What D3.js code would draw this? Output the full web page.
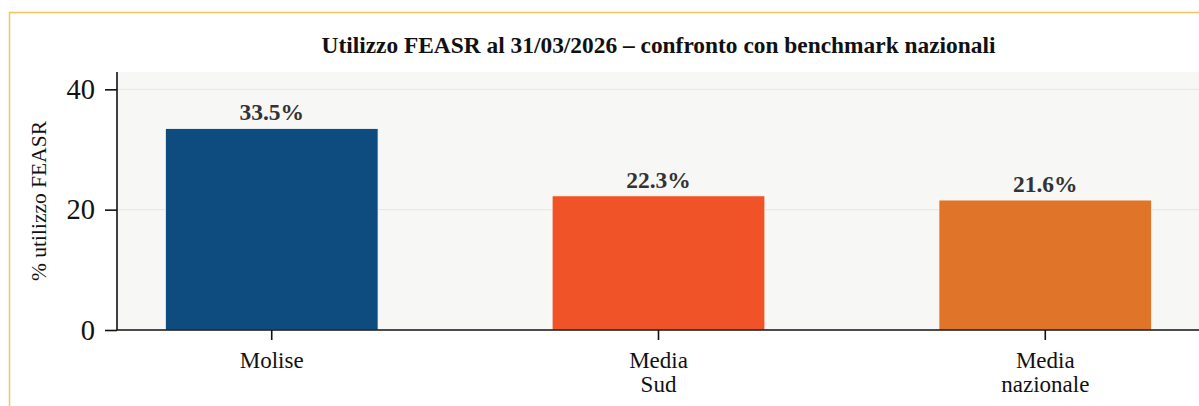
<!DOCTYPE html>
<html><head><meta charset="utf-8">
<script src="https://cdn.jsdelivr.net/npm/d3@7"></script>
<style>
html,body{margin:0;padding:0;background:#fff;overflow:hidden}
text{font-family:"Liberation Serif","Times New Roman",serif}
</style></head>
<body><svg id="c" width="1199" height="406"></svg>
<script>
const categories = [["Molise"], ["Media", "Sud"], ["Media", "nazionale"]];
const values = [33.5, 22.3, 21.6];
const barColors = ["#0e4b7f", "#f05327", "#e07428"];
const yTicks = [0, 20, 40];
const title = "Utilizzo FEASR al 31/03/2026 – confronto con benchmark nazionali";
const yLabel = "% utilizzo FEASR";

const svg = d3.select("#c");
const mLeft = 117, mRight = 1200, mTop = 72, mBottom = 330;

// frame border
svg.append("rect").attr("x", 9.5).attr("y", 12.5).attr("width", 1300).attr("height", 500)
  .attr("fill", "none").attr("stroke", "#fbc360").attr("stroke-width", 1.5);

const x = d3.scaleBand().domain(d3.range(values.length)).range([mLeft, mRight])
  .paddingInner(0.45).paddingOuter(0.125);
const y = d3.scaleLinear().domain([0, d3.max(values) * 1.28]).range([mBottom, mTop]);

// plot background
svg.append("rect").attr("x", mLeft).attr("y", mTop).attr("width", mRight - mLeft).attr("height", mBottom - mTop)
  .attr("fill", "#f7f7f5");

// grid
svg.append("g").selectAll("line").data(yTicks.filter(d => d > 0)).join("line")
  .attr("x1", mLeft).attr("x2", mRight).attr("y1", d => y(d)).attr("y2", d => y(d))
  .attr("stroke", "#e6e6e4").attr("stroke-width", 1);

// bars
svg.append("g").selectAll("rect").data(values).join("rect")
  .attr("x", (d, i) => x(i)).attr("width", x.bandwidth())
  .attr("y", d => y(d)).attr("height", d => y(0) - y(d))
  .attr("fill", (d, i) => barColors[i]).attr("stroke", "#ffffff").attr("stroke-width", 0.8);

// value labels
svg.append("g").selectAll("text").data(values).join("text")
  .attr("x", (d, i) => x(i) + x.bandwidth() / 2).attr("y", d => y(d) - 8)
  .attr("text-anchor", "middle").attr("font-weight", "bold").attr("font-size", 23.5)
  .attr("fill", "#333333").text(d => d.toFixed(1) + "%");

// y axis
const yAxis = svg.append("g").attr("transform", `translate(${mLeft},0)`)
  .call(d3.axisLeft(y).tickValues(yTicks).tickSize(12).tickPadding(10).tickFormat(d3.format("d")));
yAxis.select(".domain").attr("stroke", "#111").attr("stroke-width", 1.6).attr("d", `M0,${mTop}V${mBottom}`);
yAxis.selectAll(".tick line").attr("stroke", "#111").attr("stroke-width", 1.6);
yAxis.selectAll(".tick text").attr("font-size", 28.5).attr("fill", "#111")
  .attr("font-family", "Liberation Serif");

// x axis
const xAxis = svg.append("g").attr("transform", `translate(0,${mBottom})`)
  .call(d3.axisBottom(x).tickSize(10).tickPadding(8).tickFormat(""));
xAxis.select(".domain").attr("stroke", "#111").attr("stroke-width", 1.6).attr("d", `M${mLeft},0H${mRight}`);
xAxis.selectAll(".tick line").attr("stroke", "#111").attr("stroke-width", 1.6);
xAxis.selectAll(".tick text").remove();
xAxis.selectAll(".tick").append("text")
  .attr("text-anchor", "middle").attr("font-size", 23).attr("fill", "#111")
  .selectAll("tspan").data(i => categories[i]).join("tspan")
  .attr("x", 0).attr("y", (d, j) => 38 + j * 23.5).text(d => d);

// y label
svg.append("text").attr("transform", `translate(46,${(mTop + mBottom) / 2}) rotate(-90)`)
  .attr("text-anchor", "middle").attr("font-size", 21.5).attr("fill", "#111").text(yLabel);

// title
svg.append("text").attr("x", (mLeft + mRight) / 2).attr("y", 53)
  .attr("text-anchor", "middle").attr("font-weight", "bold").attr("font-size", 23.4)
  .attr("fill", "#111").text(title);
</script></body></html>
